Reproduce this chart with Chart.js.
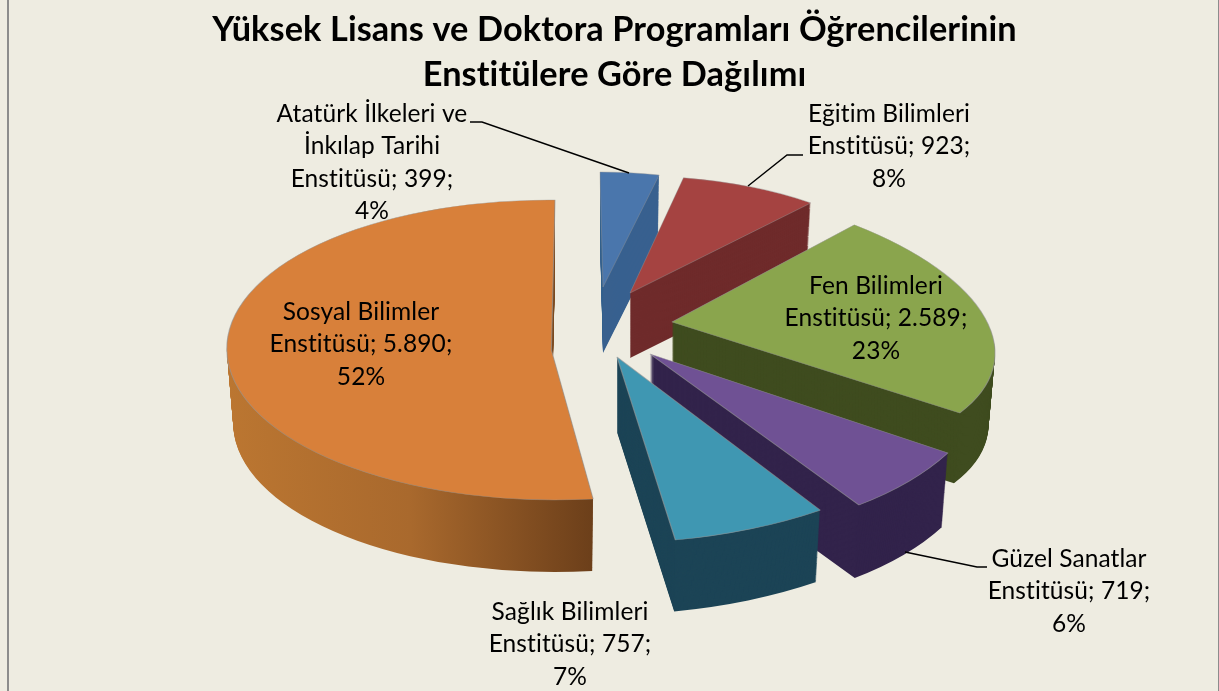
<!DOCTYPE html>
<html><head><meta charset="utf-8">
<style>
html,body{margin:0;padding:0;background:#eeece1;width:1219px;height:691px;overflow:hidden}
#c{position:absolute;left:0;top:0}
#f{position:absolute;left:7px;top:0;width:1209px;height:691px;border-left:2px solid #8c8c8c;border-right:1px solid #8c8c8c}
</style>
<script src="https://cdn.jsdelivr.net/npm/chart.js@4"></script>
</head><body>
<div id="f"></div>
<canvas id="c" width="1219" height="691"></canvas>
<script>
const titleLines = ['Yüksek Lisans ve Doktora Programları Öğrencilerinin', 'Enstitülere Göre Dağılımı'];
const categories = [
  'Atatürk İlkeleri ve\nİnkılap Tarihi\nEnstitüsü',
  'Eğitim Bilimleri\nEnstitüsü',
  'Fen Bilimleri\nEnstitüsü',
  'Güzel Sanatlar\nEnstitüsü',
  'Sağlık Bilimleri\nEnstitüsü',
  'Sosyal Bilimler\nEnstitüsü'
];
const students = [399, 923, 2589, 719, 757, 5890];
const topColors = ['#4a76ac', '#a54341', '#8aa54d', '#6f5194', '#3f97b2', '#d8803a'];
const wallColors = ['#38618f', '#6f2b2b', '#3f4c1f', '#32234b', '#1c4456', null];

// Per-slice projection of the flat pie into the tilted, exploded view
const views = [
  {ox:603,   oy:287, ux:268,   uy:1,   vx:3,    vy:115,   depth:66},
  {ox:630,   oy:293, ux:278,   uy:-5,  vx:8,    vy:117,   depth:65},
  {ox:672,   oy:322, ux:320,   uy:12,  vx:44,   vy:142,   depth:72},
  {ox:650,   oy:354, ux:340.5, uy:-6.6,vx:32.5, vy:182.6, depth:76},
  {ox:617,   oy:357, ux:371,   uy:-8,  vx:6.6,  vy:186,   depth:75},
  {ox:551.4, oy:350, ux:324.6, uy:3,   vx:-3.6, vy:150,   depth:75}
];
const labelSpots = [
  {x:372, y:114}, {x:889, y:114}, {x:876, y:286},
  {x:1069, y:559}, {x:570, y:612}, {x:361, y:312}
];
const leaders = [
  [[470,122],[482,122],[629,173]],
  [[803,155],[787,155],[748,186]],
  null,
  [[987,567],[977,567],[905,552]],
  null,
  null
];
const FONT = 'Lato, "Open Sans", sans-serif';

function labelLines(i, total) {
  const parts = categories[i].split('\n');
  const value = students[i].toLocaleString('de-DE');
  parts[parts.length - 1] += '; ' + value + ';';
  parts.push(Math.round(students[i] / total * 100) + '%');
  return parts;
}

const pie3d = {
  id: 'pie3d',
  beforeDraw(chart) {
    chart.ctx.letterSpacing = '0.1px';
  },
  beforeDatasetsDraw(chart) {
    const ctx = chart.ctx;
    const arcs = chart.getDatasetMeta(0).data;
    const total = students.reduce((a, b) => a + b, 0);
    const base = {offset:0, spacing:0, circular:true, borderAlign:'center', borderRadius:0};

    arcs.forEach((arc, i) => {
      const v = views[i], R = arc.outerRadius, saved = arc.options;
      const place = (down, shrink) => {
        const a = v.ux * shrink / R, b = v.uy * shrink / R, c = v.vx * shrink / R, d = v.vy * shrink / R;
        ctx.setTransform(a, b, c, d, v.ox - (a * arc.x + c * arc.y), v.oy + down - (b * arc.x + d * arc.y));
      };
      let wall = wallColors[i];
      if (!wall) {
        wall = ctx.createLinearGradient(arc.x - R, 0, arc.x + R * 0.14, 0);
        wall.addColorStop(0, '#bb7631');
        wall.addColorStop(0.5, '#a9692d');
        wall.addColorStop(1, '#6c3f1a');
      }
      ctx.save();
      arc.options = Object.assign({}, base, {backgroundColor: wall, borderColor: wall, borderWidth: 0});
      for (let s = v.depth; s >= 1; s--) {
        place(s, 1 - 0.02 * s / v.depth);
        arc.draw(ctx);
      }
      arc.options = Object.assign({}, base, {backgroundColor: topColors[i], borderColor: 'rgba(150,150,150,0.65)', borderWidth: 1});
      place(0, 1);
      arc.draw(ctx);
      arc.options = saved;
      ctx.restore();
    });

    ctx.save();
    ctx.setTransform(1, 0, 0, 1, 0, 0);
    ctx.strokeStyle = '#000';
    ctx.lineWidth = 1.4;
    leaders.forEach(pts => {
      if (!pts) return;
      ctx.beginPath();
      pts.forEach((p, k) => k ? ctx.lineTo(p[0], p[1]) : ctx.moveTo(p[0], p[1]));
      ctx.stroke();
    });
    ctx.fillStyle = '#000';
    ctx.font = '24.5px ' + FONT;
    ctx.textAlign = 'center';
    ctx.textBaseline = 'middle';
    labelSpots.forEach((p, i) => {
      labelLines(i, total).forEach((t, k) => ctx.fillText(t, p.x, p.y + k * 32.4));
    });
    ctx.restore();
    return false;
  }
};

new Chart(document.getElementById('c'), {
  type: 'pie',
  data: {
    labels: categories.map(c => c.replace(/\n/g, ' ')),
    datasets: [{data: students, backgroundColor: topColors, borderWidth: 0}]
  },
  options: {
    responsive: false,
    animation: false,
    layout: {padding: {left: 10}},
    plugins: {
      legend: {display: false},
      tooltip: {enabled: false},
      title: {
        display: true,
        text: titleLines,
        color: '#000',
        font: {family: FONT, size: 34.3, weight: 'bold', lineHeight: 1.3},
        padding: {top: 8, bottom: 0}
      }
    }
  },
  plugins: [pie3d]
});
</script>
</body></html>
